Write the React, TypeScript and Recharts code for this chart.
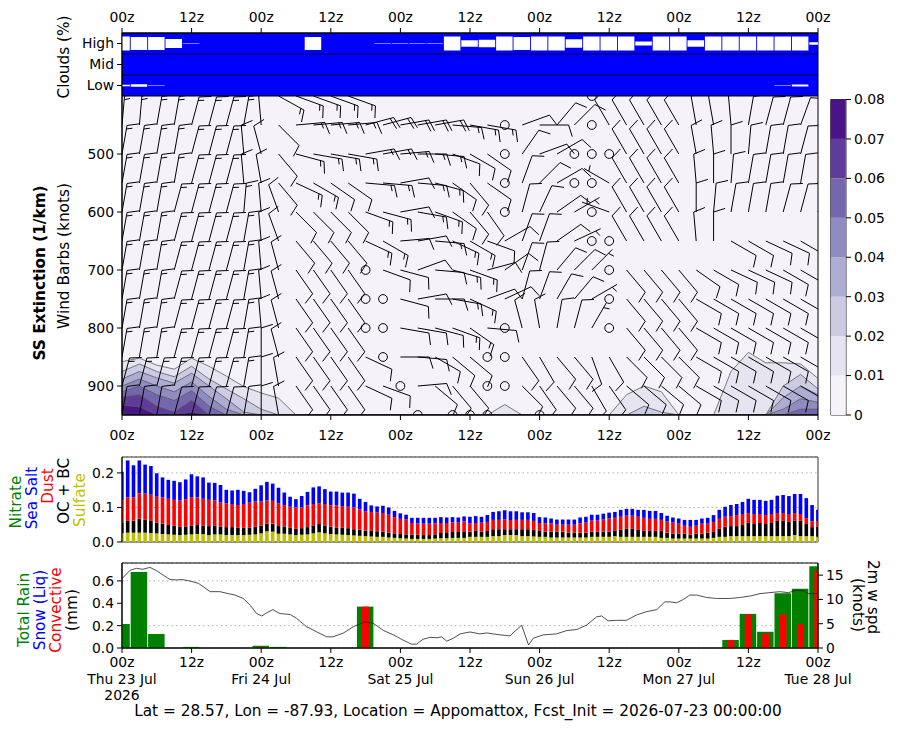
import React from 'react';
import {
  ComposedChart, BarChart, Bar, Area, Line, Scatter, XAxis, YAxis,
  CartesianGrid, ReferenceArea, ReferenceLine,
} from 'recharts';

const FONT = '"DejaVu Sans", Verdana, sans-serif';
const TICK = { fontSize: 13.9, fill: '#000', fontFamily: FONT };

// time axis: hours after 2026-07-23 00z
const hours3 = [0, 3, 6, 9, 12, 15, 18, 21, 24, 27, 30, 33, 36, 39, 42, 45, 48, 51, 54, 57, 60, 63, 66, 69, 72, 75, 78, 81, 84, 87, 90, 93, 96, 99, 102, 105, 108, 111, 114, 117, 120];
const hours1 = Array.from({ length: 121 }, (_, i) => i);
const tickHours = [0, 12, 24, 36, 48, 60, 72, 84, 96, 108, 120];
const tickZ = ['00z', '12z', '00z', '12z', '00z', '12z', '00z', '12z', '00z', '12z', '00z'];
const tickDay = ['Thu 23 Jul', '', 'Fri 24 Jul', '', 'Sat 25 Jul', '', 'Sun 26 Jul', '', 'Mon 27 Jul', '', 'Tue 28 Jul'];
const tickYear = ['2026', '', '', '', '', '', '', '', '', '', ''];

// cloud cover (%), 3-hourly
const cloudHigh = [100, 93, 93, 63, 5, 0, 0, 0, 0, 0, 0, 93, 0, 0, 0, 5, 5, 5, 5, 100, 46, 54, 100, 93, 100, 100, 60, 100, 100, 100, 28, 100, 100, 46, 100, 100, 100, 100, 100, 100, 16];
const cloudLow = [9, 19, 4, 0, 0, 0, 0, 0, 0, 0, 0, 0, 0, 0, 0, 0, 0, 0, 0, 0, 0, 0, 0, 0, 0, 0, 0, 0, 0, 0, 0, 0, 0, 0, 0, 0, 0, 0, 4, 13, 0];

// SS extinction contours: pressure (hPa) of the top of each level, 3-hourly (950 = none)
const extLevels = [0.01, 0.02, 0.03, 0.04, 0.05, 0.06, 0.07];
const extColors = ['#e5e4f0', '#cbcce4', '#adacd2', '#8f8cc1', '#7567ae', '#5f3c99', '#4a1486'];
const cbColors = ['#f5f3f9', '#e5e4f0', '#cbcce4', '#adacd2', '#8f8cc1', '#7567ae', '#5f3c99', '#4a1486'];
const cbTicks = [0, 0.01, 0.02, 0.03, 0.04, 0.05, 0.06, 0.07, 0.08];
const ext01 = [858, 852, 864, 871, 852, 866, 883, 901, 912, 921, 950, 950, 950, 950, 950, 950, 950, 950, 950, 950, 950, 950, 932, 950, 950, 950, 950, 950, 950, 915, 900, 910, 950, 950, 950, 875, 842, 860, 860, 862, 887];
const ext02 = [875, 862, 875, 884, 866, 888, 905, 922, 940, 950, 950, 950, 950, 950, 950, 950, 950, 950, 950, 950, 950, 950, 950, 950, 950, 950, 950, 950, 950, 950, 935, 945, 950, 950, 950, 950, 950, 950, 900, 880, 905];
const ext03 = [888, 875, 886, 895, 878, 900, 922, 945, 950, 950, 950, 950, 950, 950, 950, 950, 950, 950, 950, 950, 950, 950, 950, 950, 950, 950, 950, 950, 950, 950, 950, 950, 950, 950, 950, 950, 950, 950, 920, 900, 915];
const ext04 = [900, 888, 900, 910, 893, 918, 940, 950, 950, 950, 950, 950, 950, 950, 950, 950, 950, 950, 950, 950, 950, 950, 950, 950, 950, 950, 950, 950, 950, 950, 950, 950, 950, 950, 950, 950, 950, 950, 940, 922, 928];
const ext05 = [910, 900, 915, 925, 908, 935, 950, 950, 950, 950, 950, 950, 950, 950, 950, 950, 950, 950, 950, 950, 950, 950, 950, 950, 950, 950, 950, 950, 950, 950, 950, 950, 950, 950, 950, 950, 950, 950, 950, 940, 940];
const ext06 = [919, 915, 935, 945, 925, 950, 950, 950, 950, 950, 950, 950, 950, 950, 950, 950, 950, 950, 950, 950, 950, 950, 950, 950, 950, 950, 950, 950, 950, 950, 950, 950, 950, 950, 950, 950, 950, 950, 950, 950, 950];
const ext07 = [933, 936, 950, 950, 945, 950, 950, 950, 950, 950, 950, 950, 950, 950, 950, 950, 950, 950, 950, 950, 950, 950, 950, 950, 950, 950, 950, 950, 950, 950, 950, 950, 950, 950, 950, 950, 950, 950, 950, 950, 950];

// wind barbs: direction (deg, from) and speed (knots) per pressure level, 3-hourly
const barbLevels = [400, 450, 500, 550, 600, 650, 700, 750, 800, 850, 900, 950];
const dir400 = [10, 10, 10, 10, 10, 10, 10, 10, 10, 119, 110, 110, 110, 110, 20, 20, 20, 20, 20, 20, 20, 20, 20, 20, 20, 20, 20, 0, 340, 340, 340, 340, 340, 340, 340, 340, 340, 340, 340, 340, 340];
const spd400 = [15, 15, 15, 15, 15, 15, 15, 15, 15, 15, 15, 15, 15, 15, 10, 10, 10, 10, 10, 10, 10, 10, 10, 10, 10, 10, 10, 0, 10, 10, 10, 10, 10, 10, 10, 10, 10, 10, 10, 10, 10];
const dir450 = [5, 5, 10, 10, 15, 15, 15, 10, 355, 135, 85, 85, 85, 85, 75, 75, 80, 80, 80, 95, 100, 100, 0, 70, 90, 40, 45, 0, 330, 330, 330, 330, 330, 350, 350, 355, 10, 15, 15, 20, 20];
const spd450 = [15, 15, 15, 15, 15, 15, 15, 15, 10, 10, 15, 15, 15, 15, 20, 20, 20, 20, 20, 15, 15, 15, 0, 10, 10, 10, 10, 0, 10, 10, 10, 10, 10, 10, 10, 10, 10, 10, 10, 10, 10];
const dir500 = [10, 10, 10, 10, 15, 15, 15, 355, 345, 140, 105, 100, 100, 100, 80, 80, 85, 90, 95, 110, 120, 125, 0, 35, 70, 60, 0, 0, 0, 330, 330, 330, 330, 350, 355, 0, 5, 10, 10, 15, 15];
const spd500 = [15, 15, 15, 15, 15, 15, 15, 10, 10, 10, 15, 15, 15, 15, 15, 15, 15, 15, 15, 10, 10, 10, 0, 10, 10, 10, 0, 0, 0, 10, 10, 10, 10, 10, 10, 10, 10, 10, 10, 10, 10];
const dir550 = [10, 10, 10, 10, 15, 15, 15, 355, 350, 140, 115, 120, 125, 125, 95, 95, 80, 95, 105, 125, 140, 125, 0, 20, 45, 60, 0, 0, 300, 330, 330, 330, 330, 355, 0, 5, 10, 10, 10, 10, 15];
const spd550 = [15, 15, 15, 15, 15, 15, 15, 10, 10, 10, 15, 15, 10, 10, 15, 15, 10, 15, 15, 10, 10, 10, 0, 10, 10, 10, 0, 0, 5, 10, 10, 10, 10, 10, 10, 10, 10, 10, 10, 10, 10];
const dir600 = [10, 10, 10, 15, 15, 15, 15, 5, 355, 340, 135, 135, 135, 135, 110, 105, 80, 100, 110, 125, 140, 145, 0, 15, 25, 55, 60, 0, 290, 330, 330, 330, 330, 0, 5, 10, 10, 10, 15, 15, 15];
const spd600 = [15, 15, 15, 15, 15, 15, 15, 15, 10, 10, 10, 10, 10, 10, 15, 15, 10, 15, 15, 10, 10, 10, 0, 10, 10, 10, 5, 0, 5, 10, 10, 10, 10, 10, 10, 10, 10, 10, 10, 10, 10];
const dir650 = [10, 10, 10, 15, 15, 15, 15, 10, 355, 340, 140, 140, 140, 140, 115, 120, 85, 80, 95, 115, 120, 110, 60, 20, 20, 55, 65, 0, 0, 330, 330, 330, 330, 355, 0, 120, 120, 115, 115, 120, 120];
const spd650 = [15, 15, 15, 15, 15, 15, 15, 15, 10, 10, 10, 10, 10, 10, 15, 15, 10, 10, 15, 15, 15, 10, 10, 10, 10, 10, 5, 0, 0, 10, 10, 10, 10, 10, 10, 10, 10, 10, 10, 10, 10];
const dir700 = [10, 10, 10, 15, 15, 15, 15, 10, 355, 345, 145, 145, 145, 145, 0, 110, 105, 70, 95, 105, 110, 75, 55, 20, 15, 40, 45, 45, 0, 140, 140, 140, 140, 125, 120, 115, 115, 115, 120, 120, 125];
const spd700 = [15, 15, 15, 15, 15, 15, 15, 15, 10, 10, 10, 10, 10, 10, 0, 10, 10, 10, 10, 15, 15, 10, 10, 10, 10, 10, 10, 5, 0, 10, 10, 10, 10, 10, 10, 10, 10, 10, 10, 10, 10];
const dir750 = [10, 10, 10, 15, 15, 15, 15, 10, 355, 345, 145, 145, 145, 145, 0, 0, 105, 80, 90, 100, 115, 70, 65, 15, 20, 30, 40, 60, 0, 140, 140, 140, 140, 120, 120, 120, 120, 120, 120, 120, 120];
const spd750 = [15, 15, 15, 15, 15, 15, 15, 15, 10, 10, 10, 10, 10, 10, 0, 0, 10, 10, 10, 15, 15, 10, 10, 10, 10, 10, 10, 5, 0, 10, 10, 10, 10, 10, 10, 10, 10, 10, 10, 10, 10];
const dir800 = [10, 10, 10, 15, 15, 15, 15, 10, 355, 345, 145, 145, 145, 145, 0, 0, 100, 100, 105, 110, 125, 95, 0, 345, 350, 10, 15, 30, 0, 140, 140, 140, 140, 120, 120, 120, 120, 120, 120, 120, 120];
const spd800 = [15, 15, 15, 15, 15, 15, 15, 15, 10, 10, 10, 10, 10, 10, 0, 0, 10, 10, 10, 15, 15, 10, 0, 10, 10, 10, 10, 5, 0, 10, 10, 10, 10, 10, 10, 10, 10, 10, 10, 10, 10];
const dir850 = [10, 10, 10, 15, 15, 15, 15, 10, 0, 345, 145, 145, 145, 145, 115, 0, 90, 95, 120, 130, 130, 0, 0, 145, 150, 140, 140, 160, 150, 135, 135, 135, 135, 120, 120, 120, 120, 120, 120, 120, 120];
const spd850 = [15, 15, 15, 15, 15, 15, 15, 15, 10, 10, 10, 10, 10, 10, 10, 0, 10, 10, 10, 10, 10, 0, 0, 10, 10, 10, 10, 10, 10, 10, 10, 10, 10, 10, 10, 10, 10, 10, 10, 10, 10];
const dir900 = [15, 15, 15, 15, 15, 15, 15, 10, 0, 350, 145, 145, 145, 145, 115, 110, 0, 85, 130, 140, 140, 0, 0, 135, 145, 140, 140, 150, 145, 130, 130, 130, 130, 120, 120, 120, 120, 120, 120, 120, 120];
const spd900 = [15, 15, 15, 15, 15, 15, 15, 15, 10, 10, 10, 10, 10, 10, 10, 10, 0, 10, 10, 10, 10, 0, 0, 10, 10, 10, 10, 10, 10, 10, 10, 10, 10, 10, 10, 10, 10, 10, 10, 10, 10];
const dir950 = [10, 10, 10, 15, 15, 15, 15, 10, 0, 350, 145, 145, 145, 145, 120, 120, 120, 0, 130, 0, 0, 0, 135, 135, 0, 130, 130, 130, 130, 130, 130, 130, 130, 130, 130, 130, 130, 130, 130, 130, 130];
const spd950 = [10, 10, 10, 10, 10, 10, 10, 10, 10, 10, 10, 10, 10, 10, 10, 10, 10, 0, 10, 0, 0, 0, 10, 10, 0, 10, 10, 10, 10, 10, 10, 10, 10, 10, 10, 10, 10, 10, 10, 10, 10];
const barbDirs = [dir400, dir450, dir500, dir550, dir600, dir650, dir700, dir750, dir800, dir850, dir900, dir950];
const barbSpds = [spd400, spd450, spd500, spd550, spd600, spd650, spd700, spd750, spd800, spd850, spd900, spd950];

// aerosol components (hourly)
const sulfate = [0.025, 0.027, 0.027, 0.027, 0.027, 0.026, 0.025, 0.023, 0.022, 0.021, 0.020, 0.021, 0.022, 0.023, 0.023, 0.020, 0.022, 0.022, 0.020, 0.020, 0.020, 0.020, 0.021, 0.022, 0.025, 0.031, 0.030, 0.024, 0.024, 0.022, 0.020, 0.021, 0.022, 0.025, 0.028, 0.025, 0.023, 0.022, 0.021, 0.020, 0.019, 0.018, 0.017, 0.016, 0.015, 0.015, 0.013, 0.012, 0.011, 0.010, 0.009, 0.009, 0.009, 0.009, 0.010, 0.011, 0.011, 0.012, 0.012, 0.012, 0.015, 0.015, 0.015, 0.015, 0.017, 0.017, 0.020, 0.020, 0.020, 0.017, 0.017, 0.016, 0.015, 0.015, 0.013, 0.013, 0.013, 0.013, 0.013, 0.013, 0.013, 0.015, 0.015, 0.015, 0.015, 0.017, 0.015, 0.015, 0.015, 0.015, 0.015, 0.015, 0.015, 0.012, 0.012, 0.010, 0.010, 0.010, 0.010, 0.010, 0.010, 0.010, 0.012, 0.015, 0.015, 0.017, 0.017, 0.017, 0.017, 0.017, 0.017, 0.017, 0.017, 0.017, 0.017, 0.017, 0.020, 0.017, 0.017, 0.017, 0.015];
const ocbc = [0.031, 0.034, 0.035, 0.040, 0.037, 0.035, 0.031, 0.030, 0.027, 0.026, 0.024, 0.024, 0.026, 0.026, 0.025, 0.026, 0.026, 0.023, 0.023, 0.023, 0.022, 0.021, 0.021, 0.022, 0.022, 0.022, 0.023, 0.022, 0.021, 0.020, 0.018, 0.019, 0.021, 0.023, 0.024, 0.023, 0.021, 0.020, 0.020, 0.020, 0.018, 0.018, 0.016, 0.016, 0.016, 0.015, 0.014, 0.013, 0.012, 0.012, 0.012, 0.012, 0.011, 0.011, 0.012, 0.015, 0.015, 0.017, 0.017, 0.017, 0.015, 0.017, 0.015, 0.017, 0.020, 0.020, 0.017, 0.017, 0.017, 0.020, 0.020, 0.019, 0.017, 0.015, 0.017, 0.017, 0.017, 0.014, 0.014, 0.014, 0.014, 0.015, 0.015, 0.015, 0.015, 0.015, 0.020, 0.023, 0.023, 0.020, 0.017, 0.017, 0.017, 0.020, 0.015, 0.014, 0.014, 0.014, 0.011, 0.014, 0.014, 0.017, 0.017, 0.023, 0.029, 0.029, 0.029, 0.032, 0.038, 0.035, 0.038, 0.035, 0.038, 0.044, 0.044, 0.041, 0.041, 0.044, 0.035, 0.026, 0.029];
const dust = [0.064, 0.068, 0.067, 0.074, 0.076, 0.076, 0.075, 0.076, 0.076, 0.075, 0.076, 0.079, 0.082, 0.080, 0.077, 0.076, 0.072, 0.069, 0.069, 0.067, 0.065, 0.069, 0.072, 0.073, 0.070, 0.067, 0.066, 0.066, 0.062, 0.060, 0.062, 0.060, 0.063, 0.062, 0.060, 0.062, 0.062, 0.064, 0.063, 0.062, 0.063, 0.058, 0.056, 0.055, 0.054, 0.054, 0.052, 0.047, 0.044, 0.043, 0.034, 0.033, 0.033, 0.033, 0.032, 0.029, 0.029, 0.028, 0.027, 0.031, 0.024, 0.023, 0.026, 0.026, 0.027, 0.027, 0.029, 0.027, 0.027, 0.027, 0.027, 0.026, 0.023, 0.024, 0.024, 0.020, 0.020, 0.023, 0.023, 0.027, 0.029, 0.032, 0.032, 0.035, 0.038, 0.038, 0.038, 0.038, 0.038, 0.038, 0.038, 0.035, 0.035, 0.032, 0.032, 0.032, 0.029, 0.023, 0.023, 0.023, 0.029, 0.026, 0.029, 0.029, 0.029, 0.029, 0.032, 0.032, 0.029, 0.029, 0.026, 0.026, 0.026, 0.023, 0.023, 0.023, 0.023, 0.020, 0.017, 0.017, 0.017];
const seaSalt = [0.083, 0.107, 0.093, 0.095, 0.084, 0.083, 0.068, 0.058, 0.055, 0.055, 0.053, 0.057, 0.066, 0.061, 0.062, 0.050, 0.051, 0.051, 0.039, 0.039, 0.044, 0.038, 0.030, 0.037, 0.047, 0.054, 0.050, 0.045, 0.036, 0.029, 0.024, 0.033, 0.039, 0.048, 0.049, 0.043, 0.040, 0.040, 0.039, 0.041, 0.040, 0.031, 0.027, 0.019, 0.018, 0.021, 0.021, 0.018, 0.016, 0.014, 0.015, 0.016, 0.017, 0.017, 0.016, 0.017, 0.016, 0.015, 0.015, 0.014, 0.019, 0.020, 0.017, 0.020, 0.023, 0.025, 0.026, 0.025, 0.025, 0.022, 0.022, 0.023, 0.017, 0.017, 0.014, 0.015, 0.015, 0.015, 0.015, 0.017, 0.017, 0.017, 0.017, 0.017, 0.017, 0.017, 0.020, 0.020, 0.020, 0.020, 0.023, 0.023, 0.023, 0.020, 0.017, 0.015, 0.015, 0.017, 0.020, 0.017, 0.015, 0.017, 0.020, 0.026, 0.029, 0.032, 0.032, 0.035, 0.041, 0.041, 0.041, 0.041, 0.041, 0.050, 0.052, 0.052, 0.055, 0.058, 0.058, 0.047, 0.032];

// precipitation (mm, 3-hourly)
const rainTotal = [0.215, 0.68, 0.125, 0, 0.01, 0, 0, 0, 0.02, 0.01, 0, 0, 0, 0, 0.37, 0, 0, 0, 0, 0, 0, 0, 0, 0, 0, 0, 0, 0, 0, 0, 0, 0, 0, 0, 0, 0.072, 0.305, 0.145, 0.49, 0.53, 0.73];
const rainConv = [0, 0, 0, 0, 0, 0, 0, 0, 0.008, 0, 0, 0, 0, 0, 0.37, 0, 0, 0, 0, 0, 0, 0, 0, 0, 0, 0, 0, 0, 0, 0, 0, 0, 0, 0, 0, 0.072, 0.30, 0.13, 0.30, 0.215, 0.69];

// 2m wind speed (knots)
const windHour = [0, 1.4, 2.5, 3.6, 4.8, 6.0, 7.1, 8.3, 9.4, 10.3, 11.7, 13.2, 15.2, 16.9, 18.3, 19.5, 20.9, 22.1, 23.2, 24.1, 24.9, 26.0, 27.2, 29.0, 30.1, 31.8, 33.6, 35.3, 36.4, 38.2, 39.9, 41.9, 43.3, 45.1, 46.8, 48.5, 49.9, 50.8, 51.9, 53.1, 54.3, 55.1, 56.0, 57.1, 58.3, 60.0, 61.7, 62.9, 64.0, 65.2, 66.9, 68.9, 70.1, 70.9, 72.6, 74.9, 76.7, 78.4, 80.1, 81.8, 82.7, 83.8, 85.3, 87.0, 88.7, 90.5, 92.2, 93.6, 94.5, 95.6, 96.8, 97.9, 99.1, 100.8, 102.5, 104.8, 106.6, 108.3, 110.0, 111.7, 113.4, 114.9, 116.3, 117.5, 118.3, 120];
const windKt = [14.3, 16.0, 16.4, 16.2, 16.6, 15.9, 15.0, 14.1, 14.0, 14.1, 13.8, 13.3, 11.6, 11.6, 11.2, 10.9, 10.2, 8.8, 7.1, 6.6, 7.2, 7.9, 7.1, 6.9, 6.1, 4.4, 3.3, 2.3, 2.3, 3.1, 4.4, 5.4, 5.1, 3.6, 2.7, 1.6, 0.8, 0.8, 1.8, 2.2, 2.1, 2.3, 1.4, 2.0, 2.9, 3.3, 2.9, 3.1, 2.9, 2.7, 2.5, 4.7, 0.6, 2.0, 2.7, 2.9, 3.6, 3.8, 4.7, 6.4, 6.6, 5.6, 5.7, 5.7, 6.8, 7.5, 7.9, 9.5, 9.5, 9.3, 10.0, 10.9, 10.9, 10.4, 10.2, 10.2, 10.4, 10.7, 11.2, 11.4, 11.6, 11.4, 11.9, 11.8, 11.2, 11.2];

// ---- tables for recharts ----
const cloudRows = hours3.map((h, i) => ({
  h,
  hi: [2.5 - cloudHigh[i] * 0.00335, 2.5 + cloudHigh[i] * 0.00335],
  lo: [0.5 - cloudLow[i] * 0.00335, 0.5 + cloudLow[i] * 0.00335],
}));
const extSeries = [ext01, ext02, ext03, ext04, ext05, ext06, ext07];
const extRows = hours3.map((h, i) => {
  const row: any = { h };
  extSeries.forEach((s, k) => { row['c' + k] = s[i]; });
  return row;
});
const barbRows: any[] = [];
barbLevels.forEach((p, j) => {
  hours3.forEach((h, i) => {
    barbRows.push({ h, p, dir: barbDirs[j][i], spd: barbSpds[j][i] });
  });
});
const aerosolRows = hours1.map((h) => ({ h, su: sulfate[h], oc: ocbc[h], du: dust[h], ss: seaSalt[h] }));
const rainRows = hours3.map((h, i) => ({ h, total: rainTotal[i], conv: rainConv[i] }));
const windRows = windHour.map((h, i) => ({ h, kt: windKt[i] }));
const cbRow = [cbColors.reduce((r: any, _c, i) => { r['b' + i] = cbTicks[i + 1] - cbTicks[i]; return r; }, { k: 'cb' })];

const zLabel = (v: number) => tickZ[tickHours.indexOf(v)] ?? '';

// matplotlib-like wind barb, staff points into the wind
const STAFF = 29;
function Barb(props: any) {
  const { cx, cy, payload } = props;
  if (cx == null || cy == null) return null;
  if (payload.spd < 2.5) {
    return <circle cx={cx} cy={cy} r={4.4} fill="none" stroke="#000" strokeWidth={1} />;
  }
  const a = (payload.dir * Math.PI) / 180;
  const ux = Math.sin(a);
  const uy = -Math.cos(a);
  const rx = -uy;
  const ry = ux;
  const H = 0.4 * STAFF;
  const W = 0.25 * STAFF;
  const S = 0.125 * STAFF;
  const r5 = Math.round(payload.spd / 5) * 5;
  const full = Math.floor(r5 / 10);
  const half = r5 % 10 >= 5;
  let d = `M${cx},${cy}L${cx + ux * STAFF},${cy + uy * STAFF}`;
  let off = STAFF;
  for (let i = 0; i < full; i++) {
    const bx = cx + ux * off;
    const by = cy + uy * off;
    d += `M${bx},${by}L${bx + rx * H + ux * W / 2},${by + ry * H + uy * W / 2}`;
    off -= S;
  }
  if (half) {
    if (full === 0) off -= 1.5 * S;
    const bx = cx + ux * off;
    const by = cy + uy * off;
    d += `M${bx},${by}L${bx + rx * H / 2 + ux * W / 4},${by + ry * H / 2 + uy * W / 4}`;
  }
  return <path d={d} stroke="#000" strokeWidth={1} fill="none" />;
}

function TimeTick(props: any) {
  const { x, y, payload } = props;
  const i = tickHours.indexOf(payload.value);
  const lines = [tickZ[i], tickDay[i], tickYear[i]].filter((s) => s);
  return (
    <text x={x} y={y} textAnchor="middle" fontSize={13.9} fontFamily={FONT} fill="#000">
      {lines.map((s, k) => (
        <tspan key={k} x={x} dy={k === 0 ? '0.75em' : '1.17em'}>{s}</tspan>
      ))}
    </text>
  );
}

function VText({ x, y, children, color = '#000', bold = false, rot = -90 }: any) {
  return (
    <text transform={`translate(${x},${y}) rotate(${rot})`} textAnchor="middle" dominantBaseline="central"
      fontSize={15.3} fontFamily={FONT} fontWeight={bold ? 'bold' : 'normal'} fill={color}>
      {children}
    </text>
  );
}

const abs = (top: number, left = 0): React.CSSProperties => ({ position: 'absolute', top, left });

export default function App() {
  return (
    <div style={{ position: 'absolute', left: 0, top: 0, width: 900, height: 730, background: '#fff', fontFamily: FONT }}>
      {/* cloud strip */}
      <div style={abs(0)}>
        <ComposedChart width={900} height={100} data={cloudRows} margin={{ top: 3, right: 82, bottom: 4, left: 0 }}>
          <CartesianGrid fill="#0000ff" horizontal={false} vertical={false} />
          <XAxis type="number" dataKey="h" domain={[0, 120]} ticks={tickHours} tickFormatter={zLabel}
            orientation="top" height={30} tickSize={5} tickMargin={6} allowDataOverflow tick={TICK} stroke="#000" />
          <XAxis xAxisId="lo" type="number" dataKey="h" domain={[0, 120]} hide allowDataOverflow />
          <YAxis type="number" domain={[0, 3]} ticks={[0.5, 1.5, 2.5]} width={122} tickSize={5} tickMargin={3}
            tickFormatter={(v: number) => (v > 2 ? 'High' : v > 1 ? 'Mid' : 'Low')} tick={TICK} stroke="#000" />
          <Bar dataKey="hi" fill="#ffffff" barSize={16.5} isAnimationActive={false} />
          <Bar dataKey="lo" xAxisId="lo" fill="#ffffff" barSize={16.5} isAnimationActive={false} />
          <ReferenceLine y={1} stroke="#000" strokeWidth={0.8} />
          <ReferenceLine y={2} stroke="#000" strokeWidth={0.8} />
          <ReferenceArea x1={0} x2={120} y1={0} y2={3} fill="none" stroke="#000" strokeWidth={1} />
        </ComposedChart>
      </div>

      {/* SS extinction contours + wind barbs */}
      <div style={abs(60)}>
        <ComposedChart width={900} height={395} data={extRows} margin={{ top: 36, right: 82, bottom: 5, left: 0 }}>
          <CartesianGrid fill="#f5f3f9" horizontal={false} vertical={false} />
          <XAxis type="number" dataKey="h" domain={[0, 120]} ticks={tickHours} tickFormatter={zLabel}
            height={35} tickSize={5} tickMargin={10} allowDataOverflow tick={TICK} stroke="#000" />
          <YAxis type="number" domain={[400, 950]} reversed ticks={[500, 600, 700, 800, 900]} width={122}
            tickSize={5} tickMargin={3} allowDataOverflow tick={TICK} stroke="#000" />
          {extLevels.map((lv, k) => (
            <Area key={lv} type="linear" dataKey={'c' + k} baseValue={950} fill={extColors[k]} fillOpacity={1}
              stroke="#5a5a5a" strokeWidth={0.8} dot={false} activeDot={false} isAnimationActive={false} />
          ))}
          <Scatter data={barbRows} dataKey="p" shape={Barb} isAnimationActive={false} />
          <ReferenceArea x1={0} x2={120} y1={400} y2={950} fill="none" stroke="#000" strokeWidth={1} />
        </ComposedChart>
      </div>

      {/* colorbar */}
      <div style={abs(90, 800)}>
        <BarChart width={100} height={340} data={cbRow} margin={{ top: 9.5, right: 0, bottom: 15, left: 30.7 }} barCategoryGap={0}>
          <XAxis dataKey="k" hide />
          <YAxis orientation="right" type="number" domain={[0, 0.08]} ticks={cbTicks} width={54} tickSize={5} tickMargin={3}
            tickFormatter={(v: number) => (v === 0 ? '0' : v.toFixed(2))} tick={{ ...TICK, textAnchor: 'start' }} stroke="#000" axisLine={false} />
          {cbColors.map((c, i) => (
            <Bar key={c} dataKey={'b' + i} stackId="cb" fill={c} isAnimationActive={false} />
          ))}
          <ReferenceArea y1={0} y2={0.08} fill="none" stroke="#333" strokeWidth={1} />
        </BarChart>
      </div>

      {/* aerosol composition */}
      <div style={abs(440)}>
        <ComposedChart width={900} height={110} data={aerosolRows} margin={{ top: 17, right: 82, bottom: 8, left: 0 }}>
          <CartesianGrid vertical={false} stroke="#b0b0b0" strokeDasharray="1.5 3" />
          <XAxis type="number" dataKey="h" domain={[0, 120]} hide allowDataOverflow />
          <YAxis type="number" domain={[0, 0.246]} ticks={[0, 0.1, 0.2]} width={122} tickSize={5} tickMargin={3}
            tickFormatter={(v: number) => v.toFixed(1)} allowDataOverflow tick={TICK} stroke="#000" />
          <Bar dataKey="su" stackId="a" fill="#bfbf00" barSize={3.6} isAnimationActive={false} />
          <Bar dataKey="oc" stackId="a" fill="#000000" barSize={3.6} isAnimationActive={false} />
          <Bar dataKey="du" stackId="a" fill="#ff0000" barSize={3.6} isAnimationActive={false} />
          <Bar dataKey="ss" stackId="a" fill="#0000ff" barSize={3.6} isAnimationActive={false} />
          <ReferenceArea x1={0} x2={120} y1={0} y2={0.246} fill="none" stroke="#333" strokeWidth={1} />
        </ComposedChart>
      </div>

      {/* precipitation + 2m wind */}
      <div style={abs(550)}>
        <ComposedChart width={900} height={160} data={rainRows} margin={{ top: 13, right: 42, bottom: 7, left: 0 }}>
          <CartesianGrid vertical={false} yAxisId="rain" stroke="#b0b0b0" strokeDasharray="1.5 3" />
          <XAxis type="number" dataKey="h" domain={[0, 120]} ticks={tickHours} tick={<TimeTick />}
            height={55} tickSize={5} tickMargin={4} allowDataOverflow stroke="#000" />
          <XAxis xAxisId="conv" type="number" dataKey="h" domain={[0, 120]} hide allowDataOverflow />
          <XAxis xAxisId="wind" type="number" dataKey="h" domain={[0, 120]} hide allowDataOverflow />
          <XAxis xAxisId="top" type="number" dataKey="h" domain={[0, 120]} orientation="top" mirror height={0}
            ticks={tickHours} tickFormatter={() => ''} tickSize={5} stroke="#000" />
          <YAxis yAxisId="rain" type="number" domain={[0, 0.76]} ticks={[0, 0.2, 0.4, 0.6]} width={122} tickSize={5}
            tickMargin={3} tickFormatter={(v: number) => v.toFixed(1)} allowDataOverflow tick={TICK} stroke="#000" />
          <YAxis yAxisId="wind" orientation="right" type="number" domain={[0, 17.5]} ticks={[0, 5, 10, 15]} width={40}
            tickSize={5} tickMargin={3} allowDataOverflow tick={TICK} stroke="#000" />
          <Bar dataKey="total" yAxisId="rain" fill="#008000" barSize={16.5} isAnimationActive={false} />
          <Bar dataKey="conv" xAxisId="conv" yAxisId="rain" fill="#ff0000" barSize={7} isAnimationActive={false} />
          <Line data={windRows} dataKey="kt" xAxisId="wind" yAxisId="wind" type="linear" stroke="#222"
            strokeWidth={0.8} dot={false} activeDot={false} isAnimationActive={false} />
          <ReferenceArea x1={0} x2={120} y1={0} y2={0.76} yAxisId="rain" fill="none" stroke="#000" strokeWidth={1} />
        </ComposedChart>
      </div>

      {/* titles and labels */}
      <svg width={900} height={730} style={{ position: 'absolute', left: 0, top: 0, pointerEvents: 'none' }}>
        <VText x={64} y={57}>Clouds (%)</VText>
        <VText x={40} y={273} bold>SS Extinction (1/km)</VText>
        <VText x={64} y={256}>Wind Barbs (knots)</VText>
        <VText x={16} y={502} color="#008000">Nitrate</VText>
        <VText x={32} y={498} color="#0000ff">Sea Salt</VText>
        <VText x={48} y={486} color="#ff0000">Dust</VText>
        <VText x={64} y={491}>OC + BC</VText>
        <VText x={80} y={500} color="#bfbf00">Sulfate</VText>
        <VText x={24} y={610} color="#008000">Total Rain</VText>
        <VText x={40} y={610} color="#0000ff">Snow (Liq)</VText>
        <VText x={56} y={610} color="#ff0000">Convective</VText>
        <VText x={72} y={610}>(mm)</VText>
        <VText x={873} y={597} rot={90}>2m w spd</VText>
        <VText x={858} y={605} rot={90}>(knots)</VText>
        <text x={458} y={716} textAnchor="middle" fontSize={15.3} fontFamily={FONT} fill="#000">
          Lat = 28.57, Lon = -87.93, Location = Appomattox, Fcst_Init = 2026-07-23 00:00:00
        </text>
      </svg>
    </div>
  );
}
